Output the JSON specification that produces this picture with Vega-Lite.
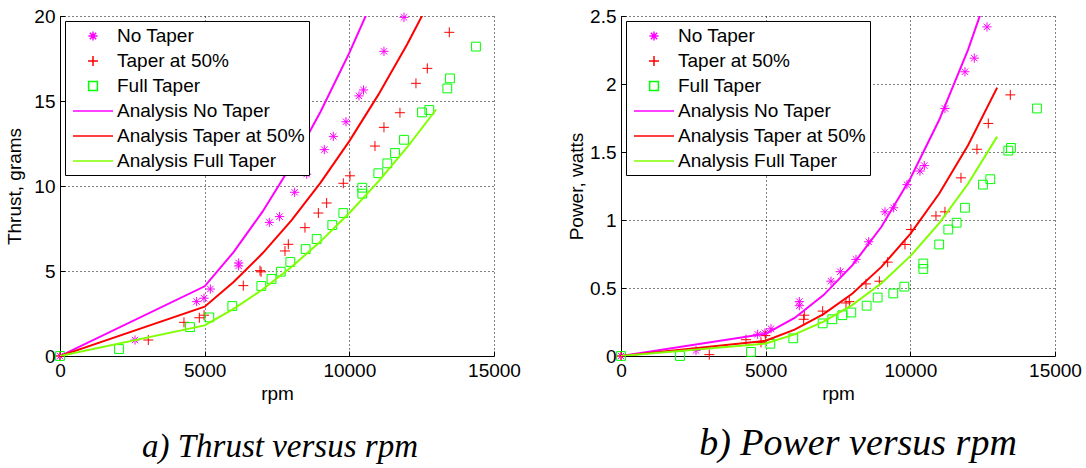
{
  "$schema": "https://vega.github.io/schema/vega-lite/v6.json",
  "background": "white",
  "padding": {"left": 5, "top": 7, "right": 5, "bottom": 2},
  "spacing": 46,
  "config": {
    "font": "Liberation Sans",
    "view": {"stroke": null},
    "axis": {
      "domainColor": "black", "domainWidth": 1,
      "grid": true, "gridColor": "black", "gridDash": [1, 3], "gridOpacity": 1, "gridWidth": 1,
      "tickColor": "black", "tickSize": -5, "tickWidth": 1,
      "labelFont": "Liberation Sans", "labelFontSize": 19, "labelColor": "black", "labelPadding": 10,
      "labelFlush": false, "labelOverlap": false, "labelBound": false,
      "titleFont": "Liberation Sans", "titleFontSize": 19, "titleFontWeight": "normal", "titleColor": "black"
    },
    "legend": {
      "orient": "top-left", "offset": 5,
      "fillColor": "white", "strokeColor": "black", "padding": 4,
      "labelFont": "Liberation Sans", "labelFontSize": 19, "labelColor": "black", "labelLimit": 400,
      "symbolSize": 400, "symbolOffset": 13, "labelOffset": 13, "rowPadding": 4,
      "symbolOpacity": 1, "symbolStrokeWidth": 1.5
    }
  },
  "datasets": {
    "thrust": [
      {"series": "No Taper", "rpm": 0, "value": 0},
      {"series": "No Taper", "rpm": 2592, "value": 0.94},
      {"series": "No Taper", "rpm": 4723, "value": 3.2},
      {"series": "No Taper", "rpm": 4977, "value": 3.4},
      {"series": "No Taper", "rpm": 5196, "value": 3.94},
      {"series": "No Taper", "rpm": 6175, "value": 5.47},
      {"series": "No Taper", "rpm": 6175, "value": 5.3},
      {"series": "No Taper", "rpm": 7235, "value": 7.86},
      {"series": "No Taper", "rpm": 7590, "value": 8.2},
      {"series": "No Taper", "rpm": 8110, "value": 9.63},
      {"series": "No Taper", "rpm": 8525, "value": 10.7},
      {"series": "No Taper", "rpm": 9135, "value": 12.14},
      {"series": "No Taper", "rpm": 9446, "value": 12.92},
      {"series": "No Taper", "rpm": 9884, "value": 13.78},
      {"series": "No Taper", "rpm": 10333, "value": 15.3},
      {"series": "No Taper", "rpm": 10490, "value": 15.65},
      {"series": "No Taper", "rpm": 11197, "value": 17.92},
      {"series": "No Taper", "rpm": 11889, "value": 19.92},
      {"series": "Taper at 50%", "rpm": 0, "value": 0},
      {"series": "Taper at 50%", "rpm": 3052, "value": 0.94},
      {"series": "Taper at 50%", "rpm": 4285, "value": 1.98},
      {"series": "Taper at 50%", "rpm": 4815, "value": 2.25},
      {"series": "Taper at 50%", "rpm": 4980, "value": 2.4},
      {"series": "Taper at 50%", "rpm": 6335, "value": 4.14},
      {"series": "Taper at 50%", "rpm": 6912, "value": 5.02},
      {"series": "Taper at 50%", "rpm": 6950, "value": 4.95},
      {"series": "Taper at 50%", "rpm": 7776, "value": 6.18},
      {"series": "Taper at 50%", "rpm": 7891, "value": 6.57},
      {"series": "Taper at 50%", "rpm": 8467, "value": 7.55},
      {"series": "Taper at 50%", "rpm": 8929, "value": 8.41},
      {"series": "Taper at 50%", "rpm": 9216, "value": 9.0},
      {"series": "Taper at 50%", "rpm": 9792, "value": 10.16},
      {"series": "Taper at 50%", "rpm": 10022, "value": 10.6},
      {"series": "Taper at 50%", "rpm": 10886, "value": 12.35},
      {"series": "Taper at 50%", "rpm": 11197, "value": 13.45},
      {"series": "Taper at 50%", "rpm": 11750, "value": 14.31},
      {"series": "Taper at 50%", "rpm": 12303, "value": 16.04},
      {"series": "Taper at 50%", "rpm": 12695, "value": 16.92},
      {"series": "Taper at 50%", "rpm": 13455, "value": 19.04},
      {"series": "Full Taper", "rpm": 0, "value": 0},
      {"series": "Full Taper", "rpm": 2039, "value": 0.41},
      {"series": "Full Taper", "rpm": 4493, "value": 1.7},
      {"series": "Full Taper", "rpm": 5161, "value": 2.27},
      {"series": "Full Taper", "rpm": 5955, "value": 2.94},
      {"series": "Full Taper", "rpm": 6958, "value": 4.12},
      {"series": "Full Taper", "rpm": 7310, "value": 4.53},
      {"series": "Full Taper", "rpm": 7630, "value": 4.96},
      {"series": "Full Taper", "rpm": 7960, "value": 5.53},
      {"series": "Full Taper", "rpm": 8490, "value": 6.29},
      {"series": "Full Taper", "rpm": 8871, "value": 6.88},
      {"series": "Full Taper", "rpm": 9411, "value": 7.7},
      {"series": "Full Taper", "rpm": 9792, "value": 8.41},
      {"series": "Full Taper", "rpm": 10448, "value": 9.55},
      {"series": "Full Taper", "rpm": 10448, "value": 9.9},
      {"series": "Full Taper", "rpm": 11001, "value": 10.75},
      {"series": "Full Taper", "rpm": 11312, "value": 11.33},
      {"series": "Full Taper", "rpm": 11578, "value": 11.94},
      {"series": "Full Taper", "rpm": 11889, "value": 12.72},
      {"series": "Full Taper", "rpm": 12511, "value": 14.33},
      {"series": "Full Taper", "rpm": 12764, "value": 14.47},
      {"series": "Full Taper", "rpm": 13386, "value": 15.74},
      {"series": "Full Taper", "rpm": 13478, "value": 16.33},
      {"series": "Full Taper", "rpm": 14377, "value": 18.2},
      {"series": "Analysis No Taper", "rpm": 0, "value": 0},
      {"series": "Analysis No Taper", "rpm": 5000, "value": 4.1},
      {"series": "Analysis No Taper", "rpm": 6000, "value": 6.11},
      {"series": "Analysis No Taper", "rpm": 7000, "value": 8.49},
      {"series": "Analysis No Taper", "rpm": 8000, "value": 11.24},
      {"series": "Analysis No Taper", "rpm": 9000, "value": 14.35},
      {"series": "Analysis No Taper", "rpm": 10000, "value": 17.83},
      {"series": "Analysis No Taper", "rpm": 11000, "value": 21.67},
      {"series": "Analysis No Taper", "rpm": 12000, "value": 25.9},
      {"series": "Analysis Taper at 50%", "rpm": 0, "value": 0},
      {"series": "Analysis Taper at 50%", "rpm": 5000, "value": 2.9},
      {"series": "Analysis Taper at 50%", "rpm": 6000, "value": 4.35},
      {"series": "Analysis Taper at 50%", "rpm": 7000, "value": 6.04},
      {"series": "Analysis Taper at 50%", "rpm": 8000, "value": 7.98},
      {"series": "Analysis Taper at 50%", "rpm": 9000, "value": 10.18},
      {"series": "Analysis Taper at 50%", "rpm": 10000, "value": 12.64},
      {"series": "Analysis Taper at 50%", "rpm": 11000, "value": 15.36},
      {"series": "Analysis Taper at 50%", "rpm": 12000, "value": 18.34},
      {"series": "Analysis Taper at 50%", "rpm": 13000, "value": 21.6},
      {"series": "Analysis Full Taper", "rpm": 0, "value": 0},
      {"series": "Analysis Full Taper", "rpm": 5000, "value": 1.8},
      {"series": "Analysis Full Taper", "rpm": 6000, "value": 2.77},
      {"series": "Analysis Full Taper", "rpm": 7000, "value": 3.91},
      {"series": "Analysis Full Taper", "rpm": 8000, "value": 5.24},
      {"series": "Analysis Full Taper", "rpm": 9000, "value": 6.73},
      {"series": "Analysis Full Taper", "rpm": 10000, "value": 8.41},
      {"series": "Analysis Full Taper", "rpm": 11000, "value": 10.26},
      {"series": "Analysis Full Taper", "rpm": 12000, "value": 12.28},
      {"series": "Analysis Full Taper", "rpm": 13000, "value": 14.5}
    ],
    "power": [
      {"series": "No Taper", "rpm": 0, "value": 0},
      {"series": "No Taper", "rpm": 2592, "value": 0.04},
      {"series": "No Taper", "rpm": 4723, "value": 0.16},
      {"series": "No Taper", "rpm": 4977, "value": 0.17},
      {"series": "No Taper", "rpm": 5184, "value": 0.2},
      {"series": "No Taper", "rpm": 6163, "value": 0.4},
      {"series": "No Taper", "rpm": 6163, "value": 0.37},
      {"series": "No Taper", "rpm": 7258, "value": 0.55},
      {"series": "No Taper", "rpm": 7580, "value": 0.62},
      {"series": "No Taper", "rpm": 8122, "value": 0.71},
      {"series": "No Taper", "rpm": 8560, "value": 0.84},
      {"series": "No Taper", "rpm": 9124, "value": 1.06},
      {"series": "No Taper", "rpm": 9424, "value": 1.09},
      {"series": "No Taper", "rpm": 9884, "value": 1.26},
      {"series": "No Taper", "rpm": 10333, "value": 1.36},
      {"series": "No Taper", "rpm": 10483, "value": 1.4},
      {"series": "No Taper", "rpm": 11197, "value": 1.82},
      {"series": "No Taper", "rpm": 11889, "value": 2.09},
      {"series": "No Taper", "rpm": 12210, "value": 2.19},
      {"series": "No Taper", "rpm": 12649, "value": 2.42},
      {"series": "Taper at 50%", "rpm": 0, "value": 0},
      {"series": "Taper at 50%", "rpm": 3052, "value": 0.01},
      {"series": "Taper at 50%", "rpm": 4320, "value": 0.12},
      {"series": "Taper at 50%", "rpm": 4838, "value": 0.1},
      {"series": "Taper at 50%", "rpm": 4990, "value": 0.15},
      {"series": "Taper at 50%", "rpm": 6313, "value": 0.27},
      {"series": "Taper at 50%", "rpm": 6335, "value": 0.3},
      {"series": "Taper at 50%", "rpm": 6970, "value": 0.33},
      {"series": "Taper at 50%", "rpm": 7776, "value": 0.39},
      {"series": "Taper at 50%", "rpm": 7891, "value": 0.4},
      {"series": "Taper at 50%", "rpm": 8467, "value": 0.53},
      {"series": "Taper at 50%", "rpm": 8929, "value": 0.55},
      {"series": "Taper at 50%", "rpm": 9216, "value": 0.69},
      {"series": "Taper at 50%", "rpm": 9815, "value": 0.82},
      {"series": "Taper at 50%", "rpm": 10022, "value": 0.93},
      {"series": "Taper at 50%", "rpm": 10886, "value": 1.03},
      {"series": "Taper at 50%", "rpm": 11197, "value": 1.06},
      {"series": "Taper at 50%", "rpm": 11750, "value": 1.31},
      {"series": "Taper at 50%", "rpm": 12303, "value": 1.52},
      {"series": "Taper at 50%", "rpm": 12695, "value": 1.71},
      {"series": "Taper at 50%", "rpm": 13455, "value": 1.92},
      {"series": "Full Taper", "rpm": 0, "value": 0},
      {"series": "Full Taper", "rpm": 2039, "value": 0.0},
      {"series": "Full Taper", "rpm": 4493, "value": 0.03},
      {"series": "Full Taper", "rpm": 5161, "value": 0.09},
      {"series": "Full Taper", "rpm": 5955, "value": 0.13},
      {"series": "Full Taper", "rpm": 6970, "value": 0.24},
      {"series": "Full Taper", "rpm": 7303, "value": 0.27},
      {"series": "Full Taper", "rpm": 7650, "value": 0.3},
      {"series": "Full Taper", "rpm": 7960, "value": 0.32},
      {"series": "Full Taper", "rpm": 8490, "value": 0.37},
      {"series": "Full Taper", "rpm": 8871, "value": 0.43},
      {"series": "Full Taper", "rpm": 9411, "value": 0.46},
      {"series": "Full Taper", "rpm": 9792, "value": 0.51},
      {"series": "Full Taper", "rpm": 10448, "value": 0.64},
      {"series": "Full Taper", "rpm": 10448, "value": 0.68},
      {"series": "Full Taper", "rpm": 10997, "value": 0.82},
      {"series": "Full Taper", "rpm": 11312, "value": 0.93},
      {"series": "Full Taper", "rpm": 11600, "value": 0.98},
      {"series": "Full Taper", "rpm": 11889, "value": 1.09},
      {"series": "Full Taper", "rpm": 12511, "value": 1.26},
      {"series": "Full Taper", "rpm": 12764, "value": 1.3},
      {"series": "Full Taper", "rpm": 13386, "value": 1.51},
      {"series": "Full Taper", "rpm": 13478, "value": 1.53},
      {"series": "Full Taper", "rpm": 14377, "value": 1.82},
      {"series": "Analysis No Taper", "rpm": 0, "value": 0},
      {"series": "Analysis No Taper", "rpm": 5000, "value": 0.163},
      {"series": "Analysis No Taper", "rpm": 6000, "value": 0.28},
      {"series": "Analysis No Taper", "rpm": 7000, "value": 0.448},
      {"series": "Analysis No Taper", "rpm": 8000, "value": 0.668},
      {"series": "Analysis No Taper", "rpm": 9000, "value": 0.95},
      {"series": "Analysis No Taper", "rpm": 10000, "value": 1.305},
      {"series": "Analysis No Taper", "rpm": 11000, "value": 1.737},
      {"series": "Analysis No Taper", "rpm": 12000, "value": 2.255},
      {"series": "Analysis No Taper", "rpm": 13000, "value": 2.867},
      {"series": "Analysis Taper at 50%", "rpm": 0, "value": 0},
      {"series": "Analysis Taper at 50%", "rpm": 5000, "value": 0.112},
      {"series": "Analysis Taper at 50%", "rpm": 6000, "value": 0.194},
      {"series": "Analysis Taper at 50%", "rpm": 7000, "value": 0.308},
      {"series": "Analysis Taper at 50%", "rpm": 8000, "value": 0.46},
      {"series": "Analysis Taper at 50%", "rpm": 9000, "value": 0.655},
      {"series": "Analysis Taper at 50%", "rpm": 10000, "value": 0.898},
      {"series": "Analysis Taper at 50%", "rpm": 11000, "value": 1.195},
      {"series": "Analysis Taper at 50%", "rpm": 12000, "value": 1.552},
      {"series": "Analysis Taper at 50%", "rpm": 13000, "value": 1.973},
      {"series": "Analysis Full Taper", "rpm": 0, "value": 0},
      {"series": "Analysis Full Taper", "rpm": 5000, "value": 0.092},
      {"series": "Analysis Full Taper", "rpm": 6000, "value": 0.159},
      {"series": "Analysis Full Taper", "rpm": 7000, "value": 0.252},
      {"series": "Analysis Full Taper", "rpm": 8000, "value": 0.376},
      {"series": "Analysis Full Taper", "rpm": 9000, "value": 0.535},
      {"series": "Analysis Full Taper", "rpm": 10000, "value": 0.734},
      {"series": "Analysis Full Taper", "rpm": 11000, "value": 0.977},
      {"series": "Analysis Full Taper", "rpm": 12000, "value": 1.268},
      {"series": "Analysis Full Taper", "rpm": 13000, "value": 1.613}
    ]
  },
  "resolve": {
    "scale": {"color": "independent", "shape": "independent"},
    "legend": {"color": "independent", "shape": "independent"}
  },
  "hconcat": [
    {
      "width": 434, "height": 340,
      "data": {"name": "thrust"},
      "title": {"text": "a)  Thrust versus rpm", "orient": "bottom", "anchor": "middle", "frame": "group", "offset": 28, "dx": 3,
                "font": "Liberation Serif", "fontStyle": "italic", "fontWeight": "normal", "fontSize": 33, "color": "black"},
      "encoding": {
        "x": {"field": "rpm", "type": "quantitative", "scale": {"domain": [0, 15000], "nice": false},
              "axis": {"title": "rpm", "values": [0, 5000, 10000, 15000], "format": "d", "titlePadding": 4}},
        "y": {"field": "value", "type": "quantitative", "scale": {"domain": [0, 20], "nice": false},
              "axis": {"title": "Thrust, grams", "values": [0, 5, 10, 15, 20], "format": "~g", "titlePadding": 9}}
      },
      "layer": [
        {
          "transform": [{"filter": "indexof(datum.series, 'Analysis') != 0"}],
          "mark": {"type": "point", "filled": false, "size": 400, "strokeWidth": 1, "opacity": 1},
          "encoding": {
            "color": {"field": "series", "type": "nominal", "title": null,
              "scale": {"domain": ["No Taper", "Taper at 50%", "Full Taper", "Analysis No Taper", "Analysis Taper at 50%", "Analysis Full Taper"],
                        "range": ["#ff00ff", "#ff0000", "#00ff00", "#ff00ff", "#ff0000", "#80ff00"]}},
            "shape": {"field": "series", "type": "nominal", "title": null,
              "scale": {"domain": ["No Taper", "Taper at 50%", "Full Taper", "Analysis No Taper", "Analysis Taper at 50%", "Analysis Full Taper"],
                        "range": ["M0,-0.46V0.46M-0.46,0H0.46M-0.32,-0.32L0.32,0.32M-0.32,0.32L0.32,-0.32", "M0,-0.5V0.5M-0.5,0H0.5", "M-0.44,-0.44H0.44V0.44H-0.44Z", "M-2,0H2", "M-2,0H2", "M-2,0H2"]}}
          }
        },
        {
          "transform": [{"filter": "indexof(datum.series, 'Analysis') == 0"}],
          "mark": {"type": "line", "strokeWidth": 2, "clip": true},
          "encoding": {
            "color": {"field": "series", "type": "nominal", "title": null}
          }
        }
      ]
    },
    {
      "width": 434, "height": 340,
      "data": {"name": "power"},
      "title": {"text": "b) Power versus rpm", "orient": "bottom", "anchor": "middle", "frame": "group", "offset": 22, "dx": 20,
                "font": "Liberation Serif", "fontStyle": "italic", "fontWeight": "normal", "fontSize": 38, "color": "black"},
      "encoding": {
        "x": {"field": "rpm", "type": "quantitative", "scale": {"domain": [0, 15000], "nice": false},
              "axis": {"title": "rpm", "values": [0, 5000, 10000, 15000], "format": "d", "titlePadding": 4}},
        "y": {"field": "value", "type": "quantitative", "scale": {"domain": [0, 2.5], "nice": false},
              "axis": {"title": "Power, watts", "values": [0, 0.5, 1, 1.5, 2, 2.5], "format": "~g", "titlePadding": 3}}
      },
      "layer": [
        {
          "transform": [{"filter": "indexof(datum.series, 'Analysis') != 0"}],
          "mark": {"type": "point", "filled": false, "size": 400, "strokeWidth": 1, "opacity": 1},
          "encoding": {
            "color": {"field": "series", "type": "nominal", "title": null,
              "scale": {"domain": ["No Taper", "Taper at 50%", "Full Taper", "Analysis No Taper", "Analysis Taper at 50%", "Analysis Full Taper"],
                        "range": ["#ff00ff", "#ff0000", "#00ff00", "#ff00ff", "#ff0000", "#80ff00"]}},
            "shape": {"field": "series", "type": "nominal", "title": null,
              "scale": {"domain": ["No Taper", "Taper at 50%", "Full Taper", "Analysis No Taper", "Analysis Taper at 50%", "Analysis Full Taper"],
                        "range": ["M0,-0.46V0.46M-0.46,0H0.46M-0.32,-0.32L0.32,0.32M-0.32,0.32L0.32,-0.32", "M0,-0.5V0.5M-0.5,0H0.5", "M-0.44,-0.44H0.44V0.44H-0.44Z", "M-2,0H2", "M-2,0H2", "M-2,0H2"]}}
          }
        },
        {
          "transform": [{"filter": "indexof(datum.series, 'Analysis') == 0"}],
          "mark": {"type": "line", "strokeWidth": 2, "clip": true},
          "encoding": {
            "color": {"field": "series", "type": "nominal", "title": null}
          }
        }
      ]
    }
  ]
}
